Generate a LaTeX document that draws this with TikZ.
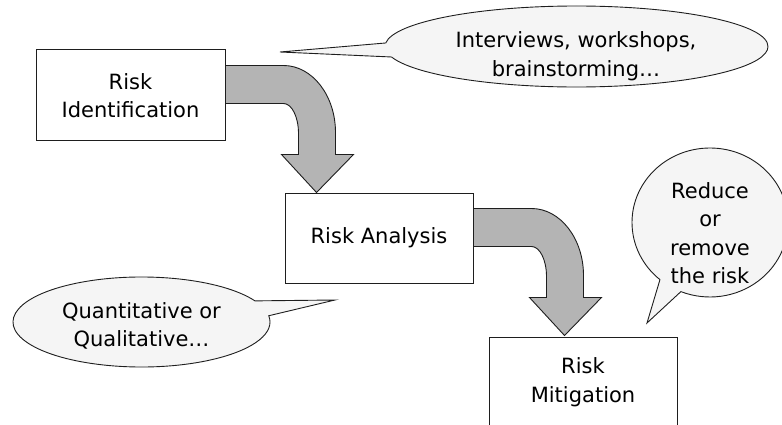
\documentclass[tikz,border=0pt]{standalone}
\usepackage{fontspec}
\setmainfont{DejaVu Sans}
\usetikzlibrary{shapes.callouts}
\definecolor{arrowgray}{RGB}{180,180,180}
\definecolor{bubblegray}{RGB}{245,245,245}
\definecolor{linegray}{RGB}{30,30,30}
\tikzset{
  stepbox/.style={draw=linegray, line width=1pt, fill=white, align=center,
    minimum width=188pt, minimum height=90pt, inner sep=0pt},
  bubble/.style={ellipse callout, draw=linegray, line width=0.9pt, fill=bubblegray,
    inner sep=0pt, callout pointer arc=20},
  bubbletext/.style={align=center, inner sep=0pt},
  arrowfill/.style={draw=linegray, line width=0.9pt, fill=arrowgray, line join=miter},
  bentarrow/.pic={
    \path[arrowfill] (0,16) -- (58,16) .. controls (86.7,16) and (110,46) .. (110,83)
      -- (110,105) -- (128,105) -- (91,143) -- (56,105) -- (73,105) -- (73,84)
      .. controls (73,67.4) and (66.3,54) .. (58,54) -- (0,54) -- cycle;
  }
}
\begin{document}
\begin{tikzpicture}[x=1pt, y=-1pt, font=\fontsize{21}{28.5}\selectfont]
\useasboundingbox (0,0) rectangle (782,425);
\clip (0,0) rectangle (782,425);

% steps
\node[stepbox, minimum width=189pt, minimum height=91pt] (b1) at (130.5,95.5) {Risk\\Identification};
\node[stepbox] (b2) at (379,238) {Risk Analysis};
\node[stepbox] (b3) at (583,382) {Risk\\Mitigation};

% bent arrows
\pic at (b1.north east) {bentarrow};
\pic at (b2.north east) {bentarrow};

% callouts
\coordinate (p1) at (280,52);
\coordinate (p2) at (335,300);
\coordinate (p3) at (647,323);
\node[bubble, minimum width=383pt, minimum height=81pt, callout absolute pointer={(p1)}] (c1) at (576.5,46.5) {};
\node[bubble, minimum width=257pt, minimum height=90pt, callout absolute pointer={(p2)}] (c2) at (141.5,322) {};
\node[bubble, minimum width=156pt, minimum height=149pt, callout absolute pointer={(p3)}, callout pointer arc=18] (c3) at (710,222.5) {};

\node[bubbletext] (t1) at (576,56) {Interviews, workshops,\\brainstorming…};
\node[bubbletext] (t2) at (141.5,326) {Quantitative or\\Qualitative…};
\node[bubbletext] (t3) at (710,233) {Reduce\\or\\remove\\the risk};
\end{tikzpicture}
\end{document}
